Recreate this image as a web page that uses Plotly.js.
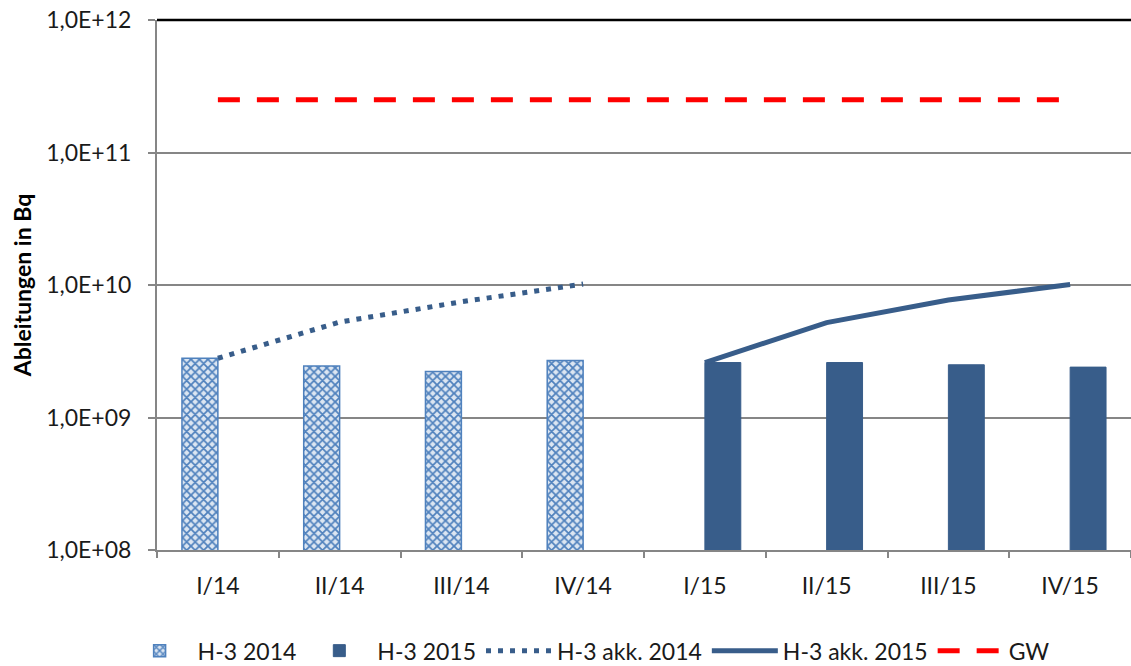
<!DOCTYPE html>
<html>
<head>
<meta charset="utf-8">
<script src="https://cdn.plot.ly/plotly-3.0.1.min.js"></script>
<style>html,body{margin:0;padding:0;background:#fff;}#chart{width:1131px;height:666px;}</style>
</head>
<body>
<div id="chart"></div>
<script>
const categories = ["I/14","II/14","III/14","IV/14","I/15","II/15","III/15","IV/15"];
const cat2014 = ["I/14","II/14","III/14","IV/14"];
const cat2015 = ["I/15","II/15","III/15","IV/15"];
const h3_2014 = [2.8e9, 2.45e9, 2.22e9, 2.69e9];
const h3_2015 = [2.6e9, 2.6e9, 2.5e9, 2.4e9];
const akk2014 = [2.8e9, 5.25e9, 7.47e9, 1.016e10];
const akk2015 = [2.6e9, 5.2e9, 7.7e9, 1.01e10];
const gw = [2.5e11, 2.5e11, 2.5e11, 2.5e11, 2.5e11, 2.5e11, 2.5e11, 2.5e11];
const yTickVals = [1e8, 1e9, 1e10, 1e11, 1e12];
const yTickText = ["1,0E+08","1,0E+09","1,0E+10","1,0E+11","1,0E+12"];

const font = "Lato, 'Open Sans', sans-serif";
const txt = "#1a1a1a";
const traces = [
  {type:"bar", name:"H-3 2014", x:cat2014, y:h3_2014, width:0.295, offset:-0.295,
   marker:{color:"#c6d9f1", line:{color:"#4f81bd", width:1.5},
           pattern:{shape:"x", fgcolor:"#4f81bd", bgcolor:"#dce6f2", size:6, solidity:0.5}}},
  {type:"bar", name:"H-3 2015", x:cat2015, y:h3_2015, width:0.295, offset:0,
   marker:{color:"#385d8a", line:{color:"#385d8a", width:1}}},
  {type:"scatter", mode:"lines", name:"H-3 akk. 2014", x:cat2014, y:akk2014,
   line:{color:"#385d8a", width:5, dash:"5px,7px"}},
  {type:"scatter", mode:"lines", name:"H-3 akk. 2015", x:cat2015, y:akk2015,
   line:{color:"#385d8a", width:5}},
  {type:"scatter", mode:"lines", name:"GW", x:categories, y:gw,
   line:{color:"#ff0000", width:5, dash:"22px,17px"}}
];
const layout = {
  width:1131, height:666,
  margin:{l:157, r:0, t:20, b:116, autoexpand:false},
  paper_bgcolor:"#fff", plot_bgcolor:"#fff",
  font:{family:font, size:23, color:txt},
  barmode:"overlay",
  showlegend:true,
  legend:{orientation:"h", xref:"container", x:0.52, xanchor:"center",
          yref:"container", y:0.023, yanchor:"middle",
          font:{family:font, size:23, color:txt}, itemwidth:66, traceorder:"normal",
          itemclick:false},
  xaxis:{type:"category", categoryorder:"array", categoryarray:categories,
         range:[-0.5, 7.5], showgrid:false, showline:true, linecolor:"#868686", linewidth:2,
         ticks:"outside", tickson:"boundaries", ticklen:6, tickcolor:"#868686", tickwidth:2,
         ticklabelstandoff:14,
         tickfont:{family:font, size:23, color:txt}, zeroline:false},
  yaxis:{type:"log", range:[8,12], tickvals:yTickVals, ticktext:yTickText,
         showgrid:true, gridcolor:"#868686", gridwidth:2,
         showline:true, linecolor:"#868686", linewidth:2,
         ticks:"outside", ticklen:7, tickcolor:"#868686", tickwidth:2,
         ticklabelstandoff:12,
         tickfont:{family:font, size:23, color:txt},
         title:{text:"Ableitungen in Bq", font:{family:font, size:23, color:"#000", weight:"bold"}, standoff:8}},
  shapes:[{type:"line", xref:"paper", yref:"paper", x0:0, x1:1, y0:1, y1:1,
           line:{color:"#000", width:2.5}}]
};
Plotly.newPlot("chart", traces, layout, {staticPlot:true, displayModeBar:false});
</script>
</body>
</html>
